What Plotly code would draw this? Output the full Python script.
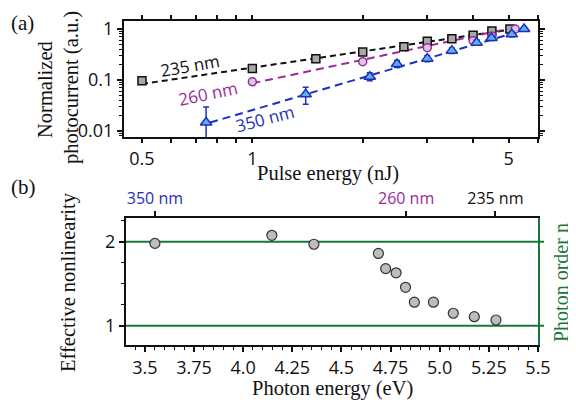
import plotly.graph_objects as go

# ---------------- data: panel (a) ----------------
e235 = [0.5, 1.0, 1.49, 2.0, 2.59, 3.0, 3.5, 4.0, 4.5, 5.04]
p235 = [0.097, 0.167, 0.262, 0.354, 0.45, 0.574, 0.645, 0.75, 0.914, 1.0]
e260 = [1.0, 2.0, 3.0, 4.0, 4.5, 5.21]
p260 = [0.092, 0.229, 0.43, 0.59, 0.73, 1.0]
e350 = [0.748, 1.398, 2.09, 2.48, 3.0, 3.5, 4.09, 4.49, 5.1, 5.51]
p350 = [0.0146, 0.0525, 0.116, 0.206, 0.262, 0.376, 0.54, 0.667, 0.787, 1.0]
p350_err_plus = [0.0149, 0.0195, 0.022, 0.035, 0.04, 0.05, 0.07, 0.08, 0.09, 0.1]
p350_err_minus = [0.014, 0.019, 0.02, 0.03, 0.035, 0.045, 0.06, 0.07, 0.08, 0.09]

fit235_x = [0.5, 5.18]
fit235_y = [0.0835, 1.0]
fit260_x = [1.0, 5.3]
fit260_y = [0.086, 1.11]
fit350_x = [0.767, 5.43]
fit350_y = [0.0146, 0.926]

xa_ticks = [0.5, 0.6, 0.7, 0.8, 0.9, 1, 2, 3, 4, 5, 6]
xa_labels = ["0.5", "", "", "", "", "1", "", "", "", "5", ""]
ya_ticks = [0.01, 0.1, 1]
ya_labels = ["0.01", "0.1", "1"]
ya_minor = [0.02, 0.03, 0.04, 0.05, 0.06, 0.07, 0.08, 0.09,
            0.2, 0.3, 0.4, 0.5, 0.6, 0.7, 0.8, 0.9, 0.008, 0.009]

# ---------------- data: panel (b) ----------------
photon_ev = [3.551, 4.146, 4.36, 4.688, 4.725, 4.778, 4.826, 4.871, 4.968, 5.069, 5.176, 5.286]
nonlin = [1.98, 2.076, 1.97, 1.86, 1.68, 1.63, 1.457, 1.28, 1.28, 1.148, 1.107, 1.068]
photon_order = [1, 2]
wl_tick_ev = [3.551, 4.829, 5.283]
wl_tick_text = ["<span style='color:#1f2fc0'>350 nm</span>",
                "<span style='color:#9a2a9a'>260 nm</span>",
                "<span style='color:#111111'>235 nm</span>"]
xb_ticks = [3.5, 3.75, 4.0, 4.25, 4.5, 4.75, 5.0, 5.25, 5.5]
xb_labels = ["3.5", "3.75", "4.0", "4.25", "4.5", "4.75", "5.0", "5.25", "5.5"]

BLACK = "#111111"
PURPLE = "#9a2a9a"
BLUE = "#1f2fc0"
GREEN = "#18773a"
SANS = "Open Sans"
SERIF = "Liberation Serif"

W, H = 576, 407
OFF = 8  # page body margin offset


def px(x):
    return (x - OFF) / W


def py(y):
    return 1 - (y - OFF) / H


fig = go.Figure()

# fits
fig.add_trace(go.Scatter(x=fit235_x, y=fit235_y, mode="lines", xaxis="x", yaxis="y",
                         line=dict(color=BLACK, width=2, dash="6px,4px"), showlegend=False))
fig.add_trace(go.Scatter(x=fit260_x, y=fit260_y, mode="lines", xaxis="x", yaxis="y",
                         line=dict(color=PURPLE, width=2, dash="8px,5px"), showlegend=False))
fig.add_trace(go.Scatter(x=fit350_x, y=fit350_y, mode="lines", xaxis="x", yaxis="y",
                         line=dict(color=BLUE, width=2, dash="8px,5px"), showlegend=False))
# markers
fig.add_trace(go.Scatter(x=e235, y=p235, mode="markers", xaxis="x", yaxis="y",
                         marker=dict(symbol="square", size=8, color="#a8a8a8",
                                     line=dict(color=BLACK, width=1.5)), showlegend=False))
fig.add_trace(go.Scatter(x=e260, y=p260, mode="markers", xaxis="x", yaxis="y",
                         marker=dict(symbol="circle", size=8, color="#d9c6e4",
                                     line=dict(color=PURPLE, width=1.5)), showlegend=False))
fig.add_trace(go.Scatter(x=e350, y=p350, mode="markers", xaxis="x", yaxis="y",
                         error_y=dict(type="data", array=p350_err_plus, arrayminus=p350_err_minus,
                                      color=BLUE, thickness=1.5, width=3),
                         marker=dict(symbol="triangle-up", size=10, color="#5fb0ea",
                                     line=dict(color=BLUE, width=1.5)), showlegend=False))

# panel b
fig.add_trace(go.Scatter(x=photon_ev, y=nonlin, mode="markers", xaxis="x2", yaxis="y2",
                         marker=dict(symbol="circle", size=10, color="#bdbdbd",
                                     line=dict(color="#333333", width=1.2)), showlegend=False))
fig.add_trace(go.Scatter(x=[wl_tick_ev[0]], y=[photon_order[0]], mode="markers", xaxis="x3", yaxis="y3",
                         marker=dict(opacity=0), hoverinfo="skip", showlegend=False))

for n in photon_order:
    fig.add_shape(type="line", xref="paper", yref="y2", x0=px(126), x1=px(544), y0=n, y1=n,
                  line=dict(color=GREEN, width=2), layer="below")

tickfont = dict(family=SANS, size=18, color=BLACK)

common = dict(automargin=False, showgrid=False, zeroline=False)

fig.update_layout(
    width=W, height=H,
    margin=dict(l=0, r=0, t=0, b=0, autoexpand=False),
    paper_bgcolor="white", plot_bgcolor="white",
    xaxis=dict(type="log", domain=[px(124), px(538)], anchor="y",
               range=[-0.35, 0.779], tickmode="array", tickvals=xa_ticks, ticktext=xa_labels,
               ticks="outside", ticklen=4, tickwidth=1.5, tickcolor=BLACK,
               showline=True, linewidth=2, linecolor=BLACK, mirror="allticks",
               tickfont=tickfont, **common),
    yaxis=dict(type="log", domain=[py(137), py(21)], anchor="x",
               range=[-2.119, 0.157], tickmode="array", tickvals=ya_ticks, ticktext=ya_labels,
               ticks="outside", ticklen=5, tickwidth=1.5, tickcolor=BLACK,
               minor=dict(tickmode="array", tickvals=ya_minor, ticks="outside", ticklen=3,
                          tickwidth=1, tickcolor=BLACK, showgrid=False),
               showline=True, linewidth=2, linecolor=BLACK, mirror="allticks",
               tickfont=tickfont, **common),
    xaxis2=dict(domain=[px(126), px(538)], anchor="y2", range=[3.404, 5.5],
                tickmode="array", tickvals=xb_ticks, ticktext=xb_labels,
                ticks="outside", ticklen=5, tickwidth=1.5, tickcolor=BLACK,
                minor=dict(dtick=0.05, tick0=3.5, ticks="outside", ticklen=3, tickwidth=1,
                           tickcolor=BLACK, showgrid=False),
                showline=True, linewidth=2, linecolor=BLACK,
                tickfont=tickfont, **common),
    yaxis2=dict(domain=[py(345), py(217.7)], anchor="x2", range=[0.77, 2.286],
                tickmode="array", tickvals=[1, 2], ticktext=["1", "2"],
                ticks="outside", ticklen=5, tickwidth=1.5, tickcolor=BLACK,
                minor=dict(dtick=0.25, tick0=1, ticks="outside", ticklen=3, tickwidth=1,
                           tickcolor=BLACK, showgrid=False),
                showline=True, linewidth=2, linecolor=BLACK,
                tickfont=tickfont, **common),
    xaxis3=dict(overlaying="x2", side="top", anchor="y2", range=[3.404, 5.5],
                tickmode="array", tickvals=wl_tick_ev, ticktext=wl_tick_text,
                ticks="outside", ticklen=5, tickwidth=1.5, tickcolor=BLACK,
                showline=True, linewidth=2, linecolor=BLACK,
                tickfont=dict(family=SANS, size=16, color=BLACK), **common),
    yaxis3=dict(overlaying="y2", side="right", anchor="x2", range=[0.77, 2.286],
                showticklabels=False, ticks="", showline=True, linewidth=2, linecolor=GREEN,
                **common),
)

ann = [
    dict(text="(a)", x=px(9), y=py(8.5), yanchor="top", font=dict(family=SERIF, size=21, color=BLACK)),
    dict(text="(b)", x=px(9), y=py(187), yanchor="middle", font=dict(family=SERIF, size=21, color=BLACK)),
]
for a in ann:
    a.update(xref="paper", yref="paper", xanchor="left", showarrow=False)
    fig.add_annotation(**a)

SF = dict(family=SERIF, size=20.5, color=BLACK)
titles = [
    dict(text="Normalized", x=px(45), y=py(90), textangle=-90, font=SF),
    dict(text="photocurrent (a.u.)", x=px(72), y=py(88), textangle=-90, font=SF),
    dict(text="Pulse energy (nJ)", x=px(328), y=py(173), font=SF),
    dict(text="Effective nonlinearity", x=px(68), y=py(282), textangle=-90, font=SF),
    dict(text="Photon energy (eV)", x=px(332), y=py(388), font=SF),
    dict(text="Photon order n", x=px(561), y=py(283), textangle=-90,
         font=dict(family=SERIF, size=20, color=GREEN)),
    dict(text="235 nm", x=px(190), y=py(65), textangle=-10, font=dict(family=SANS, size=17, color=BLACK)),
    dict(text="260 nm", x=px(208), y=py(93), textangle=-12, font=dict(family=SANS, size=17, color=PURPLE)),
    dict(text="350 nm", x=px(265), y=py(118), textangle=-15, font=dict(family=SANS, size=17, color=BLUE)),
]
for a in titles:
    a.update(xref="paper", yref="paper", xanchor="center", yanchor="middle", showarrow=False)
    fig.add_annotation(**a)

fig.write_html("out.html")
